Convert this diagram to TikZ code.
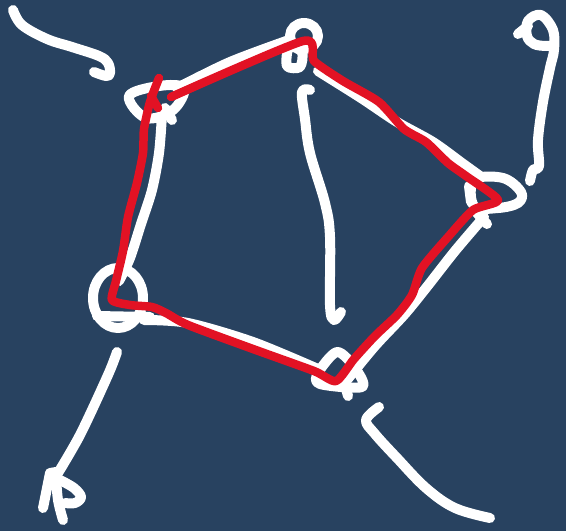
\documentclass[tikz,border=0pt]{standalone}
\begin{document}
\begin{tikzpicture}[x=1pt,y=-1pt,
  wstroke/.style={draw=white,line width=10pt,line cap=round,line join=round},
  rstroke/.style={draw=penred,line width=8.5pt,line cap=round,line join=round}]
\definecolor{bgblue}{RGB}{40,66,96}
\definecolor{penred}{RGB}{226,18,36}
\fill[bgblue] (0,0) rectangle (566,531);
\useasboundingbox (0,0) rectangle (566,531);
% top-left curve
\draw[wstroke] plot[smooth,tension=0.6] coordinates {(13,10) (22,25) (47,39) (72,47) (99,56) (108,63) (110,73) (106,76) (94,72)};
% top-right hook
\draw[wstroke] plot[smooth,tension=0.6] coordinates {(530,181) (533,170) (539,166) (538,140) (543,102) (550,68) (554,50) (553,30) (541,15) (528,21) (527,36) (534,44) (546,46) (554,45)};
\draw[wstroke] (518,34) -- (528,26);
% middle vertical line
\draw[wstroke] plot[smooth,tension=0.6] coordinates {(310,90) (302,92) (305,119) (310,153) (325,203) (330,237) (330,305) (334,320) (341,312)};
% bottom-left stroke with R
\draw[wstroke] plot[smooth,tension=0.5] coordinates {(117,352) (108,375) (80,435) (55,478)};
\draw[wstroke] (43,508) -- (50,473) -- (56,472);
\draw[wstroke] plot[smooth,tension=0.6] coordinates {(56,476) (58,500) (63,520)};
\draw[wstroke] plot[smooth,tension=0.6] coordinates {(60,480) (74,488) (81,497) (75,503) (65,503)};
% bottom-right curve
\draw[wstroke] plot[smooth,tension=0.6] coordinates {(379,407) (366,420) (375,434) (397,458) (426,488) (455,508) (490,518)};
% white polygon (under red)
\draw[wstroke] plot[smooth,tension=0.5] coordinates {(177,88) (230,62) (289,40)};
\draw[wstroke] plot[smooth,tension=0.5] coordinates {(318,71) (361,98) (397,122) (433,142) (462,163) (480,176)};
\draw[wstroke] plot[smooth,tension=0.5] coordinates {(484,217) (455,251) (426,288) (404,315) (375,346) (347,380)};
\draw[wstroke] plot[smooth,tension=0.5] coordinates {(318,369) (253,342) (188,323) (144,320)};
\draw[wstroke] plot[smooth,tension=0.5] coordinates {(162,115) (159,153) (152,190) (141,224) (130,258) (119,281)};
% vertex markers
\draw[wstroke] (304,36) ellipse [x radius=14,y radius=13];
\draw[wstroke] plot[smooth cycle,tension=0.5] coordinates {(289,47) (287,66) (300,67) (302,52)};
\draw[wstroke] plot[smooth cycle,tension=0.6] coordinates {(129,96) (159,86) (184,88) (173,110) (146,118)};
\draw[wstroke] (165,108) -- (172,120);
\draw[wstroke] (118,298) ellipse [x radius=25,y radius=30];
\draw[wstroke] (97,316) -- (150,317);
\draw[wstroke] plot[smooth cycle,tension=0.6] coordinates {(474,180) (503,178) (521,192) (518,203) (498,208) (474,206)};
\draw[wstroke] (469,186) -- (471,202);
\draw[wstroke] (476,212) -- (487,224);
\draw[wstroke] plot[smooth cycle,tension=0.5] coordinates {(337,352) (318,373) (320,384) (362,387) (355,368)};
\draw[wstroke] (345,385) -- (348,396);
% red polygon
\draw[rstroke] plot[smooth,tension=0.4] coordinates {(171,97) (303,41) (314,61) (343,81) (379,102) (404,129) (426,142) (448,163) (466,176) (498,200) (473,210) (448,237) (422,268) (412,295) (397,315) (375,336) (354,359) (336,381) (314,371) (253,349) (188,325) (166,313) (152,307) (130,305) (112,300) (116,281) (123,251) (128,217) (137,183) (143,153) (144,129) (150,102) (159,78)};
\draw[rstroke] (151,96) -- (158,108);
\end{tikzpicture}
\end{document}
